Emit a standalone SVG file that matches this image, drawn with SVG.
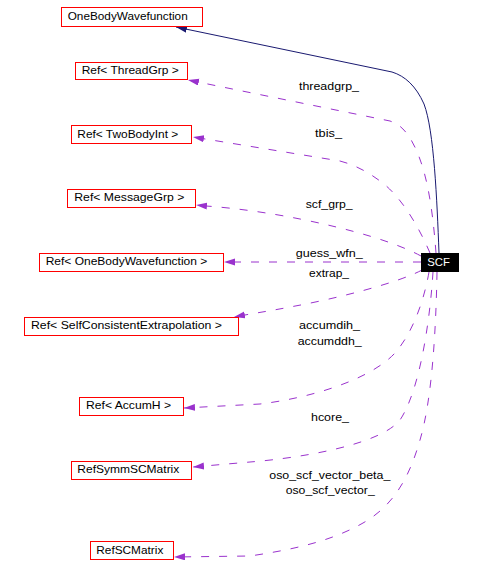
<svg xmlns="http://www.w3.org/2000/svg" width="484" height="577" viewBox="0 0 484 577">
<defs>
<style>
.box{fill:#ffffff;stroke:#ff0000;stroke-width:1}
.lbl{font-family:"Liberation Sans",Arial,sans-serif;font-size:11px;fill:#000000}
.dep{fill:none;stroke:#9a32cd;stroke-width:1;stroke-dasharray:8,10}
.inh{fill:none;stroke:#191970;stroke-width:1}
</style>
<marker id="ap" markerUnits="userSpaceOnUse" markerWidth="12" markerHeight="8" refX="11" refY="3.5" orient="auto" viewBox="0 0 12 8">
<path d="M0,0 L11,3.5 L0,7 z" fill="#9a32cd" stroke="none"/>
</marker>
<marker id="ab" markerUnits="userSpaceOnUse" markerWidth="12" markerHeight="8" refX="11" refY="3.5" orient="auto" viewBox="0 0 12 8">
<path d="M0,0 L11,3.5 L0,7 z" fill="#191970" stroke="none"/>
</marker>
</defs>
<rect width="484" height="577" fill="#ffffff"/>
<g id="connectors">
<path class="inh" d="M439,253 C437,200 434,130 424,104 C416,86 405,76 392,72 L176,27" marker-end="url(#ab)"/>
<path class="dep" d="M436,253 C432,200 425,160 408,135 C402,127 398,124 390,121 L188,80" marker-end="url(#ap)"/>
<path class="dep" d="M430,253 C418,225 400,195 380,181 C368,172 355,165 340,161 L193,137" marker-end="url(#ap)"/>
<path class="dep" d="M421,256 C395,242 350,229 300,219 C270,213 235,208 206,206 L196,205" marker-end="url(#ap)"/>
<path class="dep" d="M421,262 L224,262" marker-end="url(#ap)"/>
<path class="dep" d="M422,270 C400,282 340,298 290,307 C270,311 255,313 234,317" marker-end="url(#ap)"/>
<path class="dep" d="M429,272 C425,295 415,330 395,353 C370,380 310,398 260,404 L184,408" marker-end="url(#ap)"/>
<path class="dep" d="M433,272 C430,320 420,390 400,420 C380,445 300,458 250,462 L193,467" marker-end="url(#ap)"/>
<path class="dep" d="M437,272 C436,330 432,400 420,440 C410,475 395,505 363,523 C330,542 290,550 250,556 L174,557" marker-end="url(#ap)"/>
<text class="lbl" x="299" y="89.5" textLength="60" lengthAdjust="spacingAndGlyphs">threadgrp_</text>
<text class="lbl" x="315" y="137" textLength="27" lengthAdjust="spacingAndGlyphs">tbis_</text>
<text class="lbl" x="305.7" y="208" textLength="47" lengthAdjust="spacingAndGlyphs">scf_grp_</text>
<text class="lbl" x="295.7" y="256.5" textLength="67" lengthAdjust="spacingAndGlyphs">guess_wfn_</text>
<text class="lbl" x="309" y="277" textLength="40" lengthAdjust="spacingAndGlyphs">extrap_</text>
<text class="lbl" x="299" y="329" textLength="61" lengthAdjust="spacingAndGlyphs">accumdih_</text>
<text class="lbl" x="297.7" y="345" textLength="64" lengthAdjust="spacingAndGlyphs">accumddh_</text>
<text class="lbl" x="311" y="420.7" textLength="38" lengthAdjust="spacingAndGlyphs">hcore_</text>
<text class="lbl" x="269.3" y="478.7" textLength="121" lengthAdjust="spacingAndGlyphs">oso_scf_vector_beta_</text>
<text class="lbl" x="285.7" y="494.3" textLength="89" lengthAdjust="spacingAndGlyphs">oso_scf_vector_</text>
</g>
<g id="node-OneBodyWavefunction">
<rect class="box" x="61.5" y="7.5" width="141" height="19"/>
<text class="lbl" x="67.7" y="20.3" textLength="120" lengthAdjust="spacingAndGlyphs">OneBodyWavefunction</text>
</g>
<g id="node-RefThreadGrp">
<rect class="box" x="75.5" y="62.5" width="112" height="17"/>
<text class="lbl" x="81.7" y="73.5" textLength="97" lengthAdjust="spacingAndGlyphs">Ref&lt; ThreadGrp &gt;</text>
</g>
<g id="node-RefTwoBodyInt">
<rect class="box" x="71.5" y="125.5" width="120" height="18"/>
<text class="lbl" x="77.3" y="137.5" textLength="101" lengthAdjust="spacingAndGlyphs">Ref&lt; TwoBodyInt &gt;</text>
</g>
<g id="node-RefMessageGrp">
<rect class="box" x="67.5" y="189.5" width="128" height="18"/>
<text class="lbl" x="74.3" y="201.2" textLength="110" lengthAdjust="spacingAndGlyphs">Ref&lt; MessageGrp &gt;</text>
</g>
<g id="node-RefOneBodyWavefunction">
<rect class="box" x="39.5" y="253.5" width="184" height="18"/>
<text class="lbl" x="45.7" y="265.2" textLength="161.6" lengthAdjust="spacingAndGlyphs">Ref&lt; OneBodyWavefunction &gt;</text>
</g>
<g id="node-RefSelfConsistentExtrapolation">
<rect class="box" x="24.5" y="317.5" width="214" height="18"/>
<text class="lbl" x="31" y="329.2" textLength="191" lengthAdjust="spacingAndGlyphs">Ref&lt; SelfConsistentExtrapolation &gt;</text>
</g>
<g id="node-RefAccumH">
<rect class="box" x="79.5" y="397.5" width="104" height="18"/>
<text class="lbl" x="86" y="409.2" textLength="85" lengthAdjust="spacingAndGlyphs">Ref&lt; AccumH &gt;</text>
</g>
<g id="node-RefSymmSCMatrix">
<rect class="box" x="71.5" y="461.5" width="120" height="18"/>
<text class="lbl" x="77.3" y="473" textLength="102" lengthAdjust="spacingAndGlyphs">RefSymmSCMatrix</text>
</g>
<g id="node-RefSCMatrix">
<rect class="box" x="90.5" y="541.5" width="83" height="18"/>
<text class="lbl" x="96.3" y="553.5" textLength="67" lengthAdjust="spacingAndGlyphs">RefSCMatrix</text>
</g>
<g id="node-SCF">
<rect x="421" y="253" width="38" height="19" fill="#000000"/>
<text class="lbl" x="427.3" y="266.3" textLength="22.7" lengthAdjust="spacingAndGlyphs" fill="#ffffff" style="fill:#ffffff">SCF</text>
</g>
</svg>
